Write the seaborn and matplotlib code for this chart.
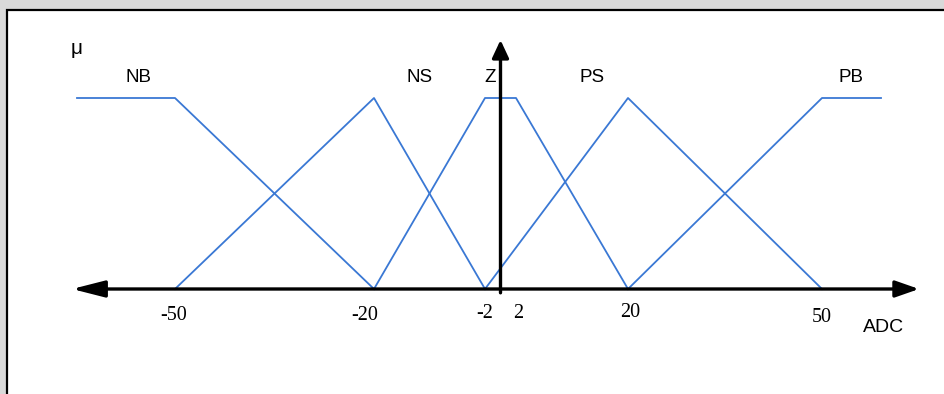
import numpy as np
import pandas as pd
import matplotlib
matplotlib.use("Agg")
import matplotlib.pyplot as plt
import matplotlib.transforms as mtransforms
import seaborn as sns
from matplotlib.patches import Rectangle

# Fuzzy sets of the ADC input: breakpoints (ADC value) and membership degree
nb_x, nb_mu = [-65, -50, -20], [1, 1, 0]
ns_x, ns_mu = [-50, -20, -2], [0, 1, 0]
z_x, z_mu = [-20, -2, 2, 20], [0, 1, 1, 0]
ps_x, ps_mu = [-2, 20, 50], [0, 1, 0]
pb_x, pb_mu = [20, 50, 65], [0, 1, 1]
set_names = ["NB", "NS", "Z", "PS", "PB"]
tick_values = [-50, -20, -2, 2, 20, 50]
tick_labels = ["-50", "-20", "-2", "2", "20", "50"]

frames = []
for name, xs, ms in zip(set_names, [nb_x, ns_x, z_x, ps_x, pb_x],
                        [nb_mu, ns_mu, z_mu, ps_mu, pb_mu]):
    frames.append(pd.DataFrame({"ADC": xs, "mu": ms, "set": name}))
df = pd.concat(frames, ignore_index=True)

# Piecewise-linear (non-uniform) horizontal scale of the diagram
anchor_val = np.array([-65, -50, -20, -2, 2, 20, 50, 65], float)
anchor_pos = np.array([77, 175, 374, 485, 516, 628, 822, 881], float)


def _piecewise(x, src, dst):
    x = np.asarray(x, float)
    y = np.interp(x, src, dst)
    sl_l = (dst[1] - dst[0]) / (src[1] - src[0])
    sl_r = (dst[-1] - dst[-2]) / (src[-1] - src[-2])
    y = np.where(x < src[0], dst[0] + (x - src[0]) * sl_l, y)
    y = np.where(x > src[-1], dst[-1] + (x - src[-1]) * sl_r, y)
    return y


def fwd(x):
    return _piecewise(x, anchor_val, anchor_pos)


def inv(p):
    return _piecewise(p, anchor_pos, anchor_val)


W, H = 944, 394
fig = plt.figure(figsize=(W / 100, H / 100), dpi=100, facecolor="#d9d9d9")
fig.patches.append(Rectangle((7 / W, -0.05), 1.1, (H - 10) / H + 0.05,
                             transform=fig.transFigure, facecolor="white",
                             edgecolor="black", linewidth=1.6, zorder=-5))

ax = fig.add_axes([0, 0, 1, 1])
ax.set_zorder(2)
ax.set_facecolor("none")
ax.set_xscale("function", functions=(fwd, inv))
ax.set_xlim(float(inv(0)), float(inv(W)))
y0_px, y1_px = 289, 98
unit = y0_px - y1_px
ax.set_ylim(-(H - y0_px) / unit, y0_px / unit)
ax.axis("off")

sns.lineplot(data=df, x="ADC", y="mu", hue="set", units="set",
             estimator=None, sort=False, legend=False,
             palette=["#3a78d4"] * 5, linewidth=1.3, ax=ax, zorder=3)

# Axes with arrowheads
ax.annotate("", xy=(float(inv(72)), 0), xytext=(0, 0),
            arrowprops=dict(arrowstyle="-|>,head_length=1.1,head_width=0.28",
                            mutation_scale=18, lw=2.4, color="black",
                            shrinkA=0, shrinkB=0), zorder=4)
ax.annotate("", xy=(float(inv(919)), 0), xytext=(0, 0),
            arrowprops=dict(arrowstyle="-|>,head_length=0.8,head_width=0.28",
                            mutation_scale=18, lw=2.4, color="black",
                            shrinkA=0, shrinkB=0), zorder=4)
ax.annotate("", xy=(0, (y0_px - 40) / unit), xytext=(0, -0.02),
            arrowprops=dict(arrowstyle="-|>,head_length=0.6,head_width=0.28",
                            mutation_scale=18, lw=2.4, color="black",
                            shrinkA=0, shrinkB=0), zorder=4)

# Tick labels on the ADC axis (small horizontal nudges in pixels)
tick_dx_px = [-1.5, -9, 0, 2, 2, 0]
tick_base_px = [320, 320, 318, 318, 317, 322]
for v, lab, dx, ty in zip(tick_values, tick_labels, tick_dx_px, tick_base_px):
    tr = ax.transData + mtransforms.ScaledTranslation(dx / 100, 0,
                                                      fig.dpi_scale_trans)
    ax.text(v, (y0_px - ty) / unit, lab, ha="center", va="baseline",
            family="Liberation Serif", fontsize=14.5, color="black",
            transform=tr)

# Set names and axis names
sans = "Liberation Sans"
for name, px in zip(set_names, [138.5, 420, 490, 592, 851.5]):
    fig.text(px / W, 1 - 82 / H, name, ha="center", va="baseline",
             family=sans, fontsize=13.5)
fig.text(77 / W, 1 - 54 / H, "μ", ha="center", va="baseline",
         family=sans, fontsize=15)
fig.text(884 / W, 1 - 332 / H, "ADC", ha="center", va="baseline",
         family=sans, fontsize=14)

fig.savefig("out.png", dpi=100, facecolor=fig.get_facecolor())
